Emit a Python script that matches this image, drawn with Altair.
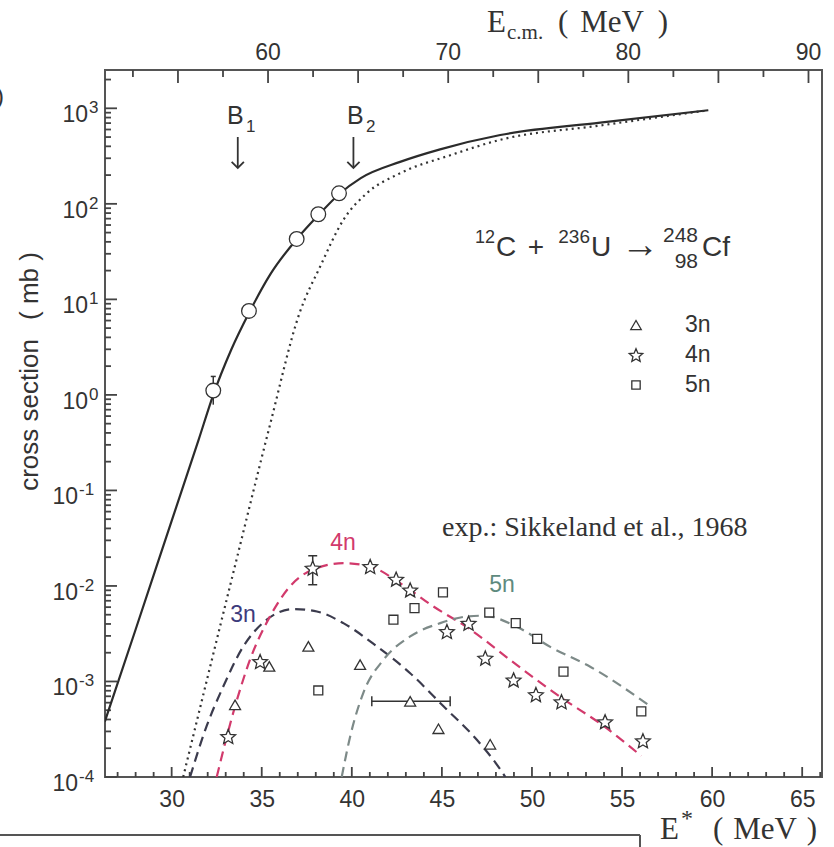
import math
import altair as alt
import pandas as pd

# ---------------- data ----------------
# complete fusion (capture) cross section, theory (solid) and no-coupling (dotted)
fus_E = [26.29, 28.0, 30.0, 31.5, 32.31, 33.3, 34.29, 35.5, 36.94, 38.14, 39.29, 40.5, 42.68, 44.9, 48.24, 53.79, 59.79]
fus_s = [3.8e-4, 3.5e-3, 4.8e-2, 0.34, 1.0, 2.95, 7.2, 18.6, 42.7, 75.9, 126, 186, 275, 372, 525, 708, 955]
dot_E = [30.64, 32.0, 33.5, 35.44, 37.1, 38.24, 39.53, 40.83, 42.68, 45.5, 48.24, 53.79, 59.79]
dot_s = [1e-4, 1.12e-3, 1.58e-2, 0.47, 7.2, 22, 67.8, 129, 209, 324, 468, 661, 955]
# measured fusion points
exp_E = [32.31, 34.29, 36.94, 38.14, 39.29]
exp_s = [1.11, 7.57, 42.9, 77.8, 129.0]
exp_err_E = [32.31]
exp_err_lo = [0.79]
exp_err_hi = [1.56]

# evaporation residue theory curves
n3_E = [31.02, 31.94, 32.87, 33.98, 35.28, 36.76, 38.06, 39.53, 41.39, 43.24, 45.09, 46.94, 48.24, 48.52]
n3_s = [1e-4, 3.4e-4, 8.9e-4, 2.33e-3, 4.43e-3, 5.73e-3, 5.4e-3, 4.08e-3, 2.33e-3, 1.22e-3, 5.5e-4, 2.45e-4, 1.2e-4, 1e-4]
n4_E = [32.5, 33.52, 34.35, 35.46, 36.57, 38.06, 39.53, 41.02, 42.68, 44.53, 46.39, 49.17, 51.61, 53.84, 56.07]
n4_s = [1e-4, 5.5e-4, 1.69e-3, 4.8e-3, 9.9e-3, 1.54e-2, 1.73e-2, 1.6e-2, 1.07e-2, 6.1e-3, 3.7e-3, 1.48e-3, 6.8e-4, 3.57e-4, 1.66e-4]
n5_E = [39.44, 39.91, 40.64, 41.76, 43.24, 44.91, 46.39, 47.31, 49.18, 51.04, 53.28, 56.63]
n5_s = [1e-4, 2.66e-4, 7.6e-4, 1.69e-3, 2.96e-3, 4.08e-3, 4.79e-3, 4.88e-3, 3.72e-3, 2.29e-3, 1.41e-3, 5.4e-4]

# evaporation residue data (Sikkeland et al., 1968)
tri_E = [33.52, 35.42, 37.59, 40.46, 43.24, 44.81, 47.68]
tri_s = [5.7e-4, 1.44e-3, 2.33e-3, 1.5e-3, 6.2e-4, 3.2e-4, 2.2e-4]
tri_xerr = [(43.24, 41.11, 45.46, 6.2e-4)]
star_E = [33.14, 34.91, 37.83, 41.02, 42.46, 43.24, 45.28, 46.48, 47.41, 48.98, 50.22, 51.64, 54.06, 56.16]
star_s = [2.66e-4, 1.62e-3, 1.54e-2, 1.6e-2, 1.18e-2, 9.1e-3, 3.34e-3, 4.08e-3, 1.76e-3, 1.04e-3, 7.3e-4, 6.15e-4, 3.8e-4, 2.4e-4]
star_yerr = [(37.83, 1.03e-2, 2.07e-2)]
sq_E = [38.14, 42.31, 43.48, 45.06, 47.63, 49.1, 50.29, 51.75, 56.07]
sq_s = [8.05e-4, 4.43e-3, 5.86e-3, 8.55e-3, 5.27e-3, 4.08e-3, 2.8e-3, 1.27e-3, 4.86e-4]

# barriers
barrier_E = [33.67, 40.09]

# axes
Q_VALUE = -24.65          # E* = E_cm + Q
x_major = [30, 35, 40, 45, 50, 55, 60, 65]
x_minor = [float(v) for v in range(27, 67) if v % 5 != 0]
ecm_major = [55.0, 60.0, 65.0, 70.0, 75.0, 80.0, 85.0, 90.0]
ecm_minor = [52.5, 57.5, 62.5, 67.5, 72.5, 77.5, 82.5, 87.5]
ecm_labels = [60, 70, 80, 90]
y_exp = [-4, -3, -2, -1, 0, 1, 2, 3]
y_minor = [k * 10.0 ** n for n in range(-4, 4) for k in range(2, 10) if k * 10.0 ** n < 2500]

# ---------------- styling ----------------
W, H = 717, 707
L0, T0 = 105, 70
X_DOM = [26.3, 66.1]
Y_DOM = [1e-4, 2518]
PX_PER_MEV = W / (X_DOM[1] - X_DOM[0])
PX_PER_DEC = H / math.log10(Y_DOM[1] / Y_DOM[0])
SANS = "Liberation Sans"
SERIF = "Liberation Serif"
INK = "#333333"
FRAME = "#555555"
TICK = "#444444"
C4 = "#d23a6c"
C3L = "#3b3b4d"
C3T = "#3d3b7c"
C5L = "#7d8a88"
C5T = "#5e8a7e"

XS = alt.Scale(domain=X_DOM, nice=False, zero=False)
YS = alt.Scale(type="log", domain=Y_DOM, nice=False)
xaxis = alt.Axis(values=x_major, ticks=False, domain=False, grid=False, labelFontSize=23,
                 labelPadding=11, labelColor=INK, labelFont=SANS, title=None, labelFlush=False)


def X(f):
    return alt.X(f, type="quantitative", scale=XS, axis=xaxis)


def Y(f):
    return alt.Y(f, type="quantitative", scale=YS, axis=None)


def txt(s, x, y, size=23, font=SANS, color=INK, align="left", baseline="alphabetic", angle=0):
    return alt.Chart(pd.DataFrame({"t": [s]})).mark_text(
        align=align, baseline=baseline, fontSize=size, font=font, color=color, angle=angle
    ).encode(x=alt.value(x - L0), y=alt.value(y - T0), text="t:N")


pts = []
for k in range(10):
    r = 1.0 if k % 2 == 0 else 0.45
    a = math.radians(-90 + 36 * k)
    pts.append(f"{r * math.cos(a):.3f},{r * math.sin(a) + 0.1:.3f}")
STAR = "M" + "L".join(pts) + "Z"
CHEV = "M-1,-1L0,0L1,-1"

layers = []

# inward ticks: rules whose two ends both run through the axis scales
def xticks(vals, length, top=False, shift=0.0):
    f = 10 ** (length / PX_PER_DEC)
    if top:
        lo, hi = Y_DOM[1] / f, Y_DOM[1]
    else:
        lo, hi = Y_DOM[0], Y_DOM[0] * f
    df = pd.DataFrame({"E": [v + shift for v in vals]})
    df["lo"] = lo
    df["hi"] = hi
    return alt.Chart(df).mark_rule(color=TICK, strokeWidth=1.8).encode(x=X("E"), y=Y("lo"), y2="hi")


def yticks(vals, length):
    df = pd.DataFrame({"s": vals})
    df["lo"] = X_DOM[0]
    df["hi"] = X_DOM[0] + length / PX_PER_MEV
    return alt.Chart(df).mark_rule(color=TICK, strokeWidth=1.8).encode(y=Y("s"), x=X("lo"), x2="hi")


layers.append(xticks(x_minor, 5))
layers.append(xticks([float(v) for v in x_major], 10))
layers.append(xticks(ecm_minor, 7, top=True, shift=Q_VALUE))
layers.append(xticks(ecm_major, 13, top=True, shift=Q_VALUE))
layers.append(yticks(y_minor, 6))
layers.append(yticks([10.0 ** e for e in y_exp], 12))

# top axis labels (E_cm)
layers.append(alt.Chart(pd.DataFrame({"v": ecm_labels})).transform_calculate(
    E=f"datum.v + ({Q_VALUE})", lab="format(datum.v, 'd')").mark_text(
    align="center", baseline="alphabetic", fontSize=23, font=SANS, color=INK
).encode(x=X("E"), y=alt.value(-10), text="lab:N"))

# curves
def curve(E, s, color, dash=None, width=2.0):
    m = dict(color=color, strokeWidth=width, interpolate="monotone", clip=True)
    if dash:
        m["strokeDash"] = dash
    return alt.Chart(pd.DataFrame({"E": E, "s": s})).mark_line(**m).encode(x=X("E"), y=Y("s"))

layers.append(curve(fus_E, fus_s, "#2b2b2b", width=2.2))
layers.append(curve(dot_E, dot_s, "#333333", dash=[2, 4], width=2.2))
layers.append(curve(n3_E, n3_s, C3L, dash=[10, 6], width=2.2))
layers.append(curve(n4_E, n4_s, C4, dash=[10, 6], width=2.2))
layers.append(curve(n5_E, n5_s, C5L, dash=[10, 6], width=2.2))

# error bars
eb_v = pd.DataFrame({"E": exp_err_E + [e[0] for e in star_yerr],
                     "lo": exp_err_lo + [e[1] for e in star_yerr],
                     "hi": exp_err_hi + [e[2] for e in star_yerr]})
layers.append(alt.Chart(eb_v).mark_rule(color=INK, strokeWidth=1.5).encode(x=X("E"), y=Y("lo"), y2="hi"))
caps_v = pd.DataFrame({"E": [e[0] for e in star_yerr] * 2, "s": [star_yerr[0][1], star_yerr[0][2]]})
layers.append(alt.Chart(caps_v).mark_tick(orient="horizontal", size=9, thickness=1.5, color=INK, opacity=1).encode(x=X("E"), y=Y("s")))
caps_c = pd.DataFrame({"E": exp_err_E, "s": exp_err_hi})
layers.append(alt.Chart(caps_c).mark_tick(orient="horizontal", size=5, thickness=1.5, color=INK, opacity=1).encode(x=X("E"), y=Y("s")))
eb_h = pd.DataFrame({"E": [e[0] for e in tri_xerr], "lo": [e[1] for e in tri_xerr],
                     "hi": [e[2] for e in tri_xerr], "s": [e[3] for e in tri_xerr]})
layers.append(alt.Chart(eb_h).mark_rule(color=INK, strokeWidth=1.5).encode(x=X("lo"), x2="hi", y=Y("s")))
caps_h = pd.DataFrame({"E": [tri_xerr[0][1], tri_xerr[0][2]], "s": [tri_xerr[0][3]] * 2})
layers.append(alt.Chart(caps_h).mark_tick(orient="vertical", size=10, thickness=1.5, color=INK, opacity=1).encode(x=X("E"), y=Y("s")))

# markers
def pts_layer(E, s, shape, size):
    return alt.Chart(pd.DataFrame({"E": E, "s": s})).mark_point(
        shape=shape, size=size, filled=True, fill="white", stroke=INK, strokeWidth=1.3, opacity=1
    ).encode(x=X("E"), y=Y("s"))

layers.append(pts_layer(exp_E, exp_s, "circle", 215))
layers.append(pts_layer(tri_E, tri_s, "triangle-up", 120))
layers.append(pts_layer(star_E, star_s, STAR, 240))
layers.append(pts_layer(sq_E, sq_s, "square", 80))

# barrier arrows
bdf = pd.DataFrame({"E": barrier_E})
layers.append(alt.Chart(bdf).mark_rule(color=INK, strokeWidth=1.8).encode(x=X("E"), y=alt.value(67), y2=alt.value(98)))
layers.append(alt.Chart(bdf).mark_point(shape=CHEV, size=150, filled=False, stroke=INK, strokeWidth=1.8, opacity=1)
              .encode(x=X("E"), y=alt.value(98)))

# y tick labels 10^n
ydf = pd.DataFrame({"e": y_exp})
ydf["v"] = [10.0 ** e for e in y_exp]
ydf["base"] = "10"
ydf["exp"] = [str(e) for e in y_exp]
pos = alt.datum.e >= 0
neg = alt.datum.e < 0
layers.append(alt.Chart(ydf).transform_filter(pos).mark_text(align="right", baseline="middle", fontSize=23, font=SANS, color=INK, dy=7)
              .encode(y=Y("v"), x=alt.value(-17), text="base:N"))
layers.append(alt.Chart(ydf).transform_filter(pos).mark_text(align="left", baseline="middle", fontSize=17, font=SANS, color=INK, dy=0)
              .encode(y=Y("v"), x=alt.value(-16), text="exp:N"))
layers.append(alt.Chart(ydf).transform_filter(neg).mark_text(align="right", baseline="middle", fontSize=23, font=SANS, color=INK, dy=7)
              .encode(y=Y("v"), x=alt.value(-27), text="base:N"))
layers.append(alt.Chart(ydf).transform_filter(neg).mark_text(align="left", baseline="middle", fontSize=17, font=SANS, color=INK, dy=0)
              .encode(y=Y("v"), x=alt.value(-26), text="exp:N"))

# legend
legend_shapes = ["triangle-up", STAR, "square"]
legend_sizes = [110, 200, 70]
legend_labels = ["3n", "4n", "5n"]
legend_y = [325, 355, 385]
for shp, sz, lab, yy in zip(legend_shapes, legend_sizes, legend_labels, legend_y):
    layers.append(alt.Chart(pd.DataFrame({"t": [lab]})).mark_point(
        shape=shp, size=sz, filled=True, fill="white", stroke=INK, strokeWidth=1.3, opacity=1
    ).encode(x=alt.value(636 - L0), y=alt.value(yy - T0)))
    layers.append(txt(lab, 685, yy, size=23, baseline="middle"))

# annotations
layers.append(txt("4n", 343, 543, size=23, color=C4, align="center", baseline="middle"))
layers.append(txt("3n", 243, 615, size=23, color=C3T, align="center", baseline="middle"))
layers.append(txt("5n", 502, 585, size=23, color=C5T, align="center", baseline="middle"))
layers.append(txt("exp.: Sikkeland et al., 1968", 442, 536, size=28, font=SERIF, color=INK))
layers.append(txt("B", 227, 124, size=25))
layers.append(txt("1", 246, 132, size=17))
layers.append(txt("B", 347, 124, size=25))
layers.append(txt("2", 366, 132, size=17))
# reaction
layers.append(txt("12", 475, 243, size=18))
layers.append(txt("C", 496, 256, size=28))
layers.append(txt("+", 536, 256, size=28, align="center"))
layers.append(txt("236", 590, 243, size=19, align="right"))
layers.append(txt("U", 591, 256, size=28))
layers.append(txt("\u2192", 640, 246, size=38, align="center", baseline="middle"))
layers.append(txt("248", 698, 242, size=21, align="right"))
layers.append(txt("98", 698, 268, size=21, align="right"))
layers.append(txt("Cf", 702, 256, size=28))
# axis titles
layers.append(txt("( mb )", 30, 286, size=26, angle=270, align="center", baseline="middle"))
layers.append(txt("cross section", 30, 415, size=26, angle=270, align="center", baseline="middle"))
layers.append(txt("E", 660, 839, size=31, font=SERIF))
layers.append(txt("*", 681, 826, size=24, font=SERIF))
layers.append(txt("(", 713, 839, size=31, font=SERIF))
layers.append(txt("MeV", 765, 839, size=31, font=SERIF, align="center"))
layers.append(txt(")", 817, 839, size=31, font=SERIF, align="right"))
layers.append(txt("E", 487, 32, size=31, font=SERIF))
layers.append(txt("c.m.", 507, 39, size=21, font=SERIF))
layers.append(txt("(", 558, 32, size=31, font=SERIF))
layers.append(txt("MeV", 612, 32, size=31, font=SERIF, align="center"))
layers.append(txt(")", 668, 32, size=31, font=SERIF, align="right"))
layers.append(txt(")", 4, 104, size=24, align="right"))
# frame of the panel below
layers.append(alt.Chart(pd.DataFrame({"t": [0]})).mark_rule(color=FRAME, strokeWidth=2)
              .encode(x=alt.value(-L0), x2=alt.value(640 - L0), y=alt.value(835 - T0)))
layers.append(alt.Chart(pd.DataFrame({"t": [0]})).mark_rule(color=FRAME, strokeWidth=2)
              .encode(x=alt.value(640 - L0), y=alt.value(835 - T0), y2=alt.value(860 - T0)))

chart = alt.layer(*layers).properties(
    width=W, height=H,
    padding={"left": L0, "top": T0, "right": 834 - L0 - W, "bottom": 847 - T0 - H},
    autosize=alt.AutoSizeParams(type="none"),
    background="white",
).configure_view(stroke=FRAME, strokeWidth=2)

chart.save("out.html", embed_options={"renderer": "svg", "actions": False})
